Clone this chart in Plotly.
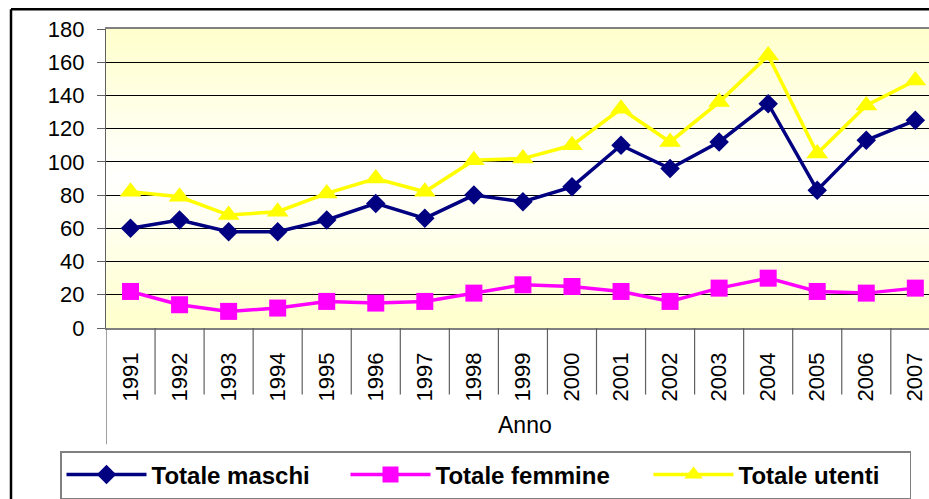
import plotly.graph_objects as go

# Yearly totals
anni = [str(a) for a in range(1991, 2008)]
totale_maschi = [60, 65, 58, 58, 65, 75, 66, 80, 76, 85, 110, 96, 112, 135, 83, 113, 125]
totale_femmine = [22, 14, 10, 12, 16, 15, 16, 21, 26, 25, 22, 16, 24, 30, 22, 21, 24]
totale_utenti = [82, 79, 68, 70, 81, 90, 82, 101, 102, 110, 132, 112, 136, 164, 105, 134, 149]

y_ticks = list(range(0, 181, 20))

W, H = 929, 499
ML, MR, MT, MB = 106, 0, 29, 169
PW = W - ML - MR
PH = H - MT - MB
CAT_W = 49.05

FONT = "Arial, Liberation Sans, sans-serif"


def px_x(px):
    return (px - ML) / PW


def px_y(py):
    return (H - MB - py) / PH


fig = go.Figure()

series = [
    ("Totale maschi", totale_maschi, "#000080", "diamond", 15),
    ("Totale femmine", totale_femmine, "#FF00FF", "square", 17),
    ("Totale utenti", totale_utenti, "#FFFF00", "triangle-up", 19),
]
legend_widths = [189, 208, 166]

for (name, vals, color, sym, size), lw in zip(series, legend_widths):
    fig.add_trace(go.Scatter(
        x=anni, y=vals, name=name, mode="lines+markers",
        line=dict(color=color, width=3.5),
        marker=dict(symbol=sym, size=size, color=color),
        cliponaxis=False, legendwidth=lw,
    ))

shapes = []
# plot-area background: pale yellow at top and bottom, white in the middle
n_bands = 60
for i in range(n_bands):
    t0 = i / n_bands
    t1 = (i + 1) / n_bands
    tm = (t0 + t1) / 2
    w = 1 - abs(tm - 0.5) * 2
    b = int(round(204 + (255 - 204) * w))
    shapes.append(dict(type="rect", xref="paper", yref="paper",
                       x0=0, x1=1, y0=t0, y1=t1 + 0.002,
                       fillcolor=f"rgb(255,255,{b})", line=dict(width=0),
                       layer="below"))

# category separators below the x axis
n = len(anni)
for i in range(n + 1):
    xb = i - 0.5
    y1 = px_y(447) if i == 0 else px_y(397)
    shapes.append(dict(type="line", xref="x", yref="paper",
                       x0=xb, x1=xb, y0=0, y1=y1,
                       line=dict(color="#606060", width=1.2), layer="above"))

# outer chart frame (left and top edges)
shapes.append(dict(type="line", xref="paper", yref="paper",
                   x0=px_x(11), x1=px_x(11), y0=px_y(9), y1=px_y(505),
                   line=dict(color="black", width=2.5)))
shapes.append(dict(type="line", xref="paper", yref="paper",
                   x0=px_x(11), x1=px_x(940), y0=px_y(9), y1=px_y(9),
                   line=dict(color="black", width=2.5)))

fig.update_layout(
    width=W, height=H,
    margin=dict(l=ML, r=MR, t=MT, b=MB, pad=0),
    paper_bgcolor="white",
    plot_bgcolor="rgba(0,0,0,0)",
    font=dict(family=FONT, size=22, color="black"),
    shapes=shapes,
    showlegend=True,
    legend=dict(
        orientation="h", x=px_x(60), y=px_y(454),
        xanchor="left", yanchor="top",
        bordercolor="#808080", borderwidth=1.5, bgcolor="white",
        font=dict(family=FONT, size=24, color="black", weight="bold"),
        entrywidthmode="pixels", itemwidth=80,
    ),
    annotations=[dict(
        text="Anno", xref="paper", yref="paper",
        x=px_x(525), y=px_y(428), xanchor="center", yanchor="middle",
        showarrow=False, font=dict(family=FONT, size=23, color="black"),
    )],
)

fig.update_xaxes(
    type="category", categoryorder="array", categoryarray=anni,
    range=[-0.5, PW / CAT_W - 0.5],
    showgrid=False, zeroline=False,
    showline=True, linecolor="#808080", linewidth=1.5, mirror=True,
    ticks="", tickangle=-90, ticklabelstandoff=14,
    tickfont=dict(family=FONT, size=22, color="black"),
)
fig.update_yaxes(
    range=[0, 180], tickvals=y_ticks,
    showgrid=True, gridcolor="black", gridwidth=1,
    zeroline=False,
    showline=True, linecolor="#606060", linewidth=1.2,
    ticks="outside", ticklen=8, tickcolor="#606060", tickwidth=1.2,
    ticklabelstandoff=8,
    tickfont=dict(family=FONT, size=22, color="black"),
)

fig.write_html("out.html")
